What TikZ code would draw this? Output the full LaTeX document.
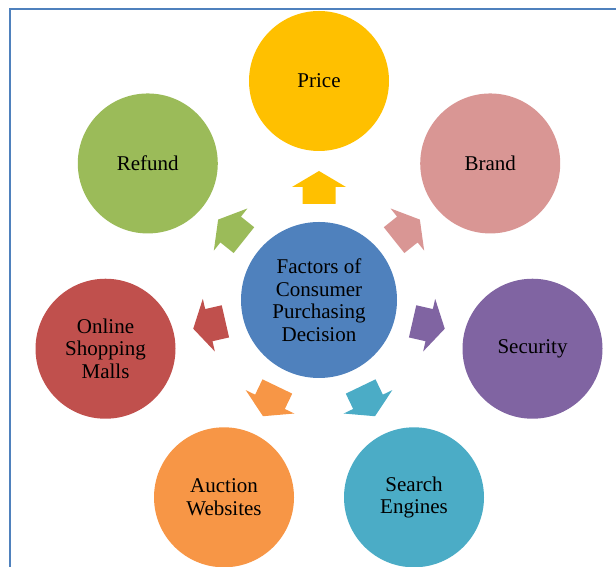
\documentclass[tikz,border=0pt]{standalone}
\usepackage{fontspec}
\setmainfont{Liberation Serif}
\usetikzlibrary{calc}
\definecolor{cPrice}{RGB}{255,192,0}
\definecolor{cBrand}{RGB}{217,150,148}
\definecolor{cSecurity}{RGB}{128,100,162}
\definecolor{cSearch}{RGB}{75,172,198}
\definecolor{cAuction}{RGB}{247,150,70}
\definecolor{cOnline}{RGB}{192,80,77}
\definecolor{cRefund}{RGB}{155,187,89}
\definecolor{cCenter}{RGB}{79,129,189}
\definecolor{cFrame}{RGB}{79,129,189}
\tikzset{
  hub/.style={circle, fill=cCenter, minimum size=156pt, inner sep=0pt, align=center,
    font=\fontsize{21}{22.5}\selectfont},
  factor/.style={circle, minimum size=140pt, inner sep=0pt, align=center,
    font=\fontsize{21}{22.5}\selectfont}
}
\newcommand{\myblockarrow}[2]{%
  \begin{scope}[shift={(hub.center)}, rotate=#1]
    \fill[#2] (96,-16.5) -- (113,-16.5) -- (113,-27) -- (129,0) -- (113,27) -- (113,16.5) -- (96,16.5) -- cycle;
  \end{scope}}
\begin{document}
\begin{tikzpicture}[x=1pt,y=1pt]
  \useasboundingbox (0,0) rectangle (616,567);
  \begin{scope}
    \clip (0,0) rectangle (616,567);
    \draw[cFrame, line width=2pt] (10,0) -- (10,558) -- (616,558);
    \node[hub] (hub) at (319,267) {Factors of\\Consumer\\Purchasing\\Decision};
    \node[factor, fill=cPrice]    (price)    at ($(hub.center)+(90:219)$) {Price};
    \node[factor, fill=cBrand]    (brand)    at ($(hub.center)+(38.57:219)$) {Brand};
    \node[factor, fill=cSecurity] (security) at ($(hub.center)+(-12.86:219)$) {Security};
    \node[factor, fill=cSearch]   (search)   at ($(hub.center)+(-64.29:219)$) {Search\\Engines};
    \node[factor, fill=cAuction]  (auction)  at ($(hub.center)+(-115.71:219)$) {Auction\\Websites};
    \node[factor, fill=cOnline]   (online)   at ($(hub.center)+(-167.14:219)$) {Online\\Shopping\\Malls};
    \node[factor, fill=cRefund]   (refund)   at ($(hub.center)+(141.43:219)$) {Refund};
    \myblockarrow{90}{cPrice}
    \myblockarrow{38.57}{cBrand}
    \myblockarrow{-12.86}{cSecurity}
    \myblockarrow{-64.29}{cSearch}
    \myblockarrow{-115.71}{cAuction}
    \myblockarrow{-167.14}{cOnline}
    \myblockarrow{141.43}{cRefund}
  \end{scope}
\end{tikzpicture}
\end{document}
